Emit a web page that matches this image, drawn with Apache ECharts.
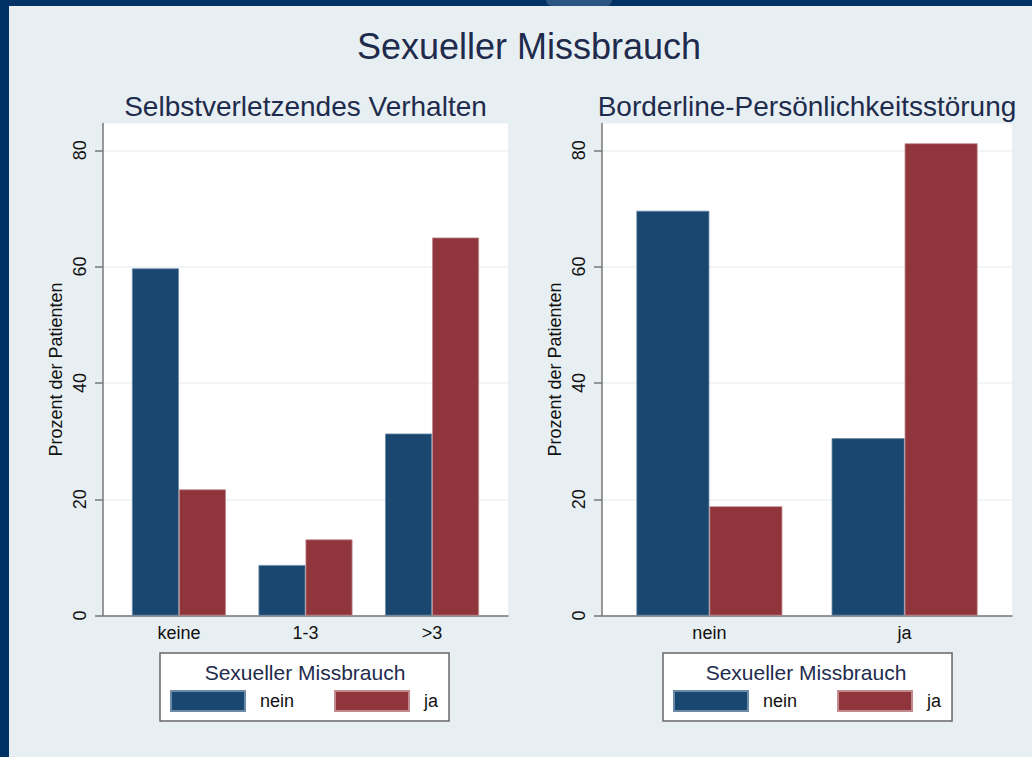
<!DOCTYPE html>
<html>
<head>
<meta charset="utf-8">
<script src="https://cdn.jsdelivr.net/npm/echarts@6/dist/echarts.min.js"></script>
<style>
  html, body { margin: 0; padding: 0; background: #e8eff2; }
  #chart { width: 1032px; height: 757px; }
</style>
</head>
<body>
<div id="chart"></div>
<script>

    // Panel 1: Selbstverletzendes Verhalten
    const categoriesLeft = ['keine', '1-3', '>3'];
    const neinLeft = [59.7, 8.7, 31.3];
    const jaLeft = [21.7, 13.1, 65.0];

    // Panel 2: Borderline-Persönlichkeitsstörung
    const categoriesRight = ['nein', 'ja'];
    const neinRight = [69.6, 30.5];
    const jaRight = [18.8, 81.2];

    const yTicks = [0, 20, 40, 60, 80];

    const FONT = '"Liberation Sans", Arial, Helvetica, sans-serif';
    const NAVY = '#1a476f';
    const MAROON = '#90353b';
    const TITLE_COLOR = '#1e2b4d';
    const AXIS_COLOR = '#777';

    const positions = (list) => list.map((_, i) => i + 1);
    const toPairs = (values) => values.map((v, i) => [i + 1, v]);

    function xAxisFor(categories, min, max, gridIndex) {
        return {
            type: 'value',
            gridIndex: gridIndex,
            min: min,
            max: max,
            axisLine: { show: true, lineStyle: { color: AXIS_COLOR, width: 1.5 } },
            axisTick: { show: false },
            splitLine: { show: false },
            axisLabel: {
                customValues: positions(categories),
                formatter: (v) => categories[Math.round(v) - 1] || '',
                color: '#111',
                fontSize: 18,
                fontFamily: FONT,
                margin: 8
            }
        };
    }

    function yAxisFor(gridIndex) {
        return {
            type: 'value',
            gridIndex: gridIndex,
            min: 0,
            max: 84.6,
            interval: 20,
            name: 'Prozent der Patienten',
            nameLocation: 'middle',
            nameGap: 38,
            nameTextStyle: { color: '#111', fontSize: 18, fontFamily: FONT },
            axisLine: { show: true, lineStyle: { color: AXIS_COLOR, width: 1.5 } },
            axisTick: {
                show: true,
                length: 8,
                customValues: yTicks,
                lineStyle: { color: AXIS_COLOR, width: 1.5 }
            },
            splitLine: { show: true, lineStyle: { color: '#edf2f3', width: 1.5 } },
            axisLabel: {
                customValues: yTicks,
                rotate: 90,
                color: '#111',
                fontSize: 18,
                fontFamily: FONT,
                margin: 14
            }
        };
    }

    function barSeries(name, values, color, border, idx, width) {
        return {
            name: name,
            type: 'bar',
            xAxisIndex: idx,
            yAxisIndex: idx,
            barWidth: width,
            barGap: '0%',
            animation: false,
            itemStyle: { color: color, borderColor: border, borderWidth: 0.8 },
            data: toPairs(values)
        };
    }

    function legendFor(left) {
        return {
            data: ['nein', 'ja'],
            left: left,
            top: 653,
            orient: 'horizontal',
            icon: 'rect',
            itemWidth: 74,
            itemHeight: 20,
            itemGap: 40,
            padding: [37, 11, 9, 10],
            backgroundColor: '#fff',
            borderColor: '#666',
            borderWidth: 1.5,
            borderRadius: 0,
            selectedMode: false,
            textStyle: { color: '#111', fontSize: 18, fontFamily: FONT, padding: [0, 0, 0, 10] }
        };
    }

    function label(text, x, y, size, color) {
        return {
            type: 'text',
            x: x,
            y: y,
            z: 100,
            style: {
                text: text,
                fill: color,
                font: size + 'px ' + FONT,
                align: 'center',
                verticalAlign: 'middle'
            }
        };
    }

    const chart = echarts.init(document.getElementById('chart'), null, { renderer: 'svg' });
    chart.setOption({
        backgroundColor: '#e8eff2',
        animation: false,
        grid: [
            { left: 103, right: 524, top: 123.5, bottom: 141.4, show: true, backgroundColor: '#fff', borderWidth: 0 },
            { left: 602, right: 20, top: 123.5, bottom: 141.4, show: true, backgroundColor: '#fff', borderWidth: 0 }
        ],
        xAxis: [
            xAxisFor(categoriesLeft, 0.4, 3.6, 0),
            xAxisFor(categoriesRight, 0.45, 2.55, 1)
        ],
        yAxis: [yAxisFor(0), yAxisFor(1)],
        legend: [legendFor(160), legendFor(663)],
        series: [
            barSeries('nein', neinLeft, NAVY, '#6d8aa6', 0, 47),
            barSeries('ja', jaLeft, MAROON, '#c08a8e', 0, 47),
            barSeries('nein', neinRight, NAVY, '#6d8aa6', 1, 73),
            barSeries('ja', jaRight, MAROON, '#c08a8e', 1, 73)
        ],
        graphic: [
            { type: 'rect', shape: { x: 0, y: 0, width: 1032, height: 6 }, style: { fill: '#003265' }, z: 50 },
            { type: 'rect', shape: { x: 0, y: 0, width: 9, height: 757 }, style: { fill: '#003265' }, z: 50 },
            { type: 'rect', shape: { x: 546, y: 0, width: 66, height: 6, r: [0, 0, 6, 6] }, style: { fill: '#2c5582' }, z: 51 },
            label('Sexueller Missbrauch', 529, 46, 36, TITLE_COLOR),
            label('Selbstverletzendes Verhalten', 305.5, 106, 28, TITLE_COLOR),
            label('Borderline-Persönlichkeitsstörung', 807, 106, 28, TITLE_COLOR),
            label('Sexueller Missbrauch', 305, 672, 21, TITLE_COLOR),
            label('Sexueller Missbrauch', 806, 672, 21, TITLE_COLOR)
        ]
    });

</script>
</body>
</html>
